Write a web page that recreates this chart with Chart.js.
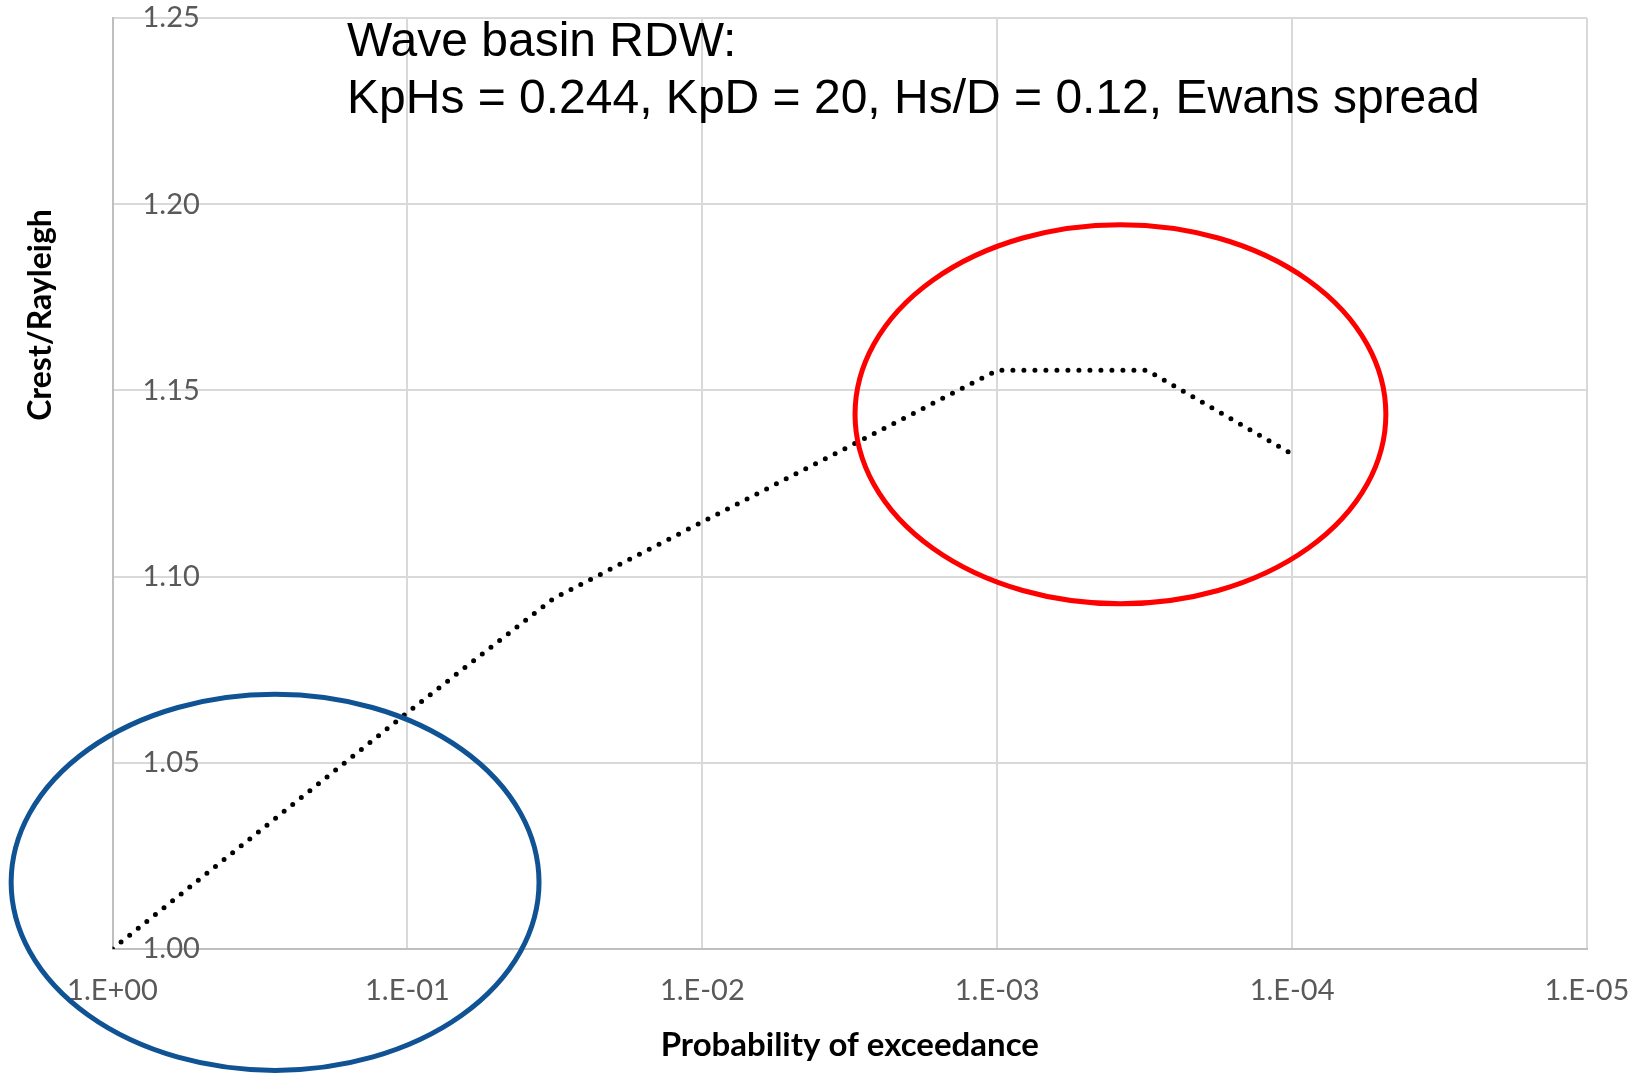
<!DOCTYPE html>
<html>
<head>
<meta charset="utf-8">
<script src="https://cdn.jsdelivr.net/npm/chart.js@4.4.1/dist/chart.umd.min.js"></script>
<style>
  html, body { margin: 0; padding: 0; background: #ffffff; overflow: hidden; }
  #wrap { width: 1649px; height: 1073px; position: relative; }
</style>
</head>
<body>
<div id="wrap"><canvas id="c" width="1649" height="1073"></canvas></div>
<script>
// Crest height relative to Rayleigh vs. probability of exceedance
const probability = [1, 0.1, 0.032, 0.001, 0.00031, 0.0001];
const crestRatio  = [1.000, 1.0635, 1.0941, 1.1554, 1.1554, 1.1329];

const xTickValues = [1, 1e-1, 1e-2, 1e-3, 1e-4, 1e-5];
const xTickLabels = ['1.E+00', '1.E-01', '1.E-02', '1.E-03', '1.E-04', '1.E-05'];
const yTickValues = [1.00, 1.05, 1.10, 1.15, 1.20, 1.25];
const yTickLabels = ['1.00', '1.05', '1.10', '1.15', '1.20', '1.25'];

const headingLines = ['Wave basin RDW:', 'KpHs = 0.244, KpD = 20, Hs/D = 0.12, Ewans spread'];
const xAxisTitle = 'Probability of exceedance';
const yAxisTitle = 'Crest/Rayleigh';

// Highlight rings: centre (probability, ratio), half-width in decades, half-height in ratio units
const rings = [
  { p: 0.281,   y: 1.0179, rxDecades: 0.895, ry: 0.0505, color: '#0F5394' },
  { p: 3.82e-4, y: 1.1436, rxDecades: 0.900, ry: 0.0509, color: '#FF0000' }
];

const tickFont = { family: 'Lato, "Open Sans", sans-serif', size: 29 };
const tickColor = '#595959';

// keep the plot box exactly where the layout padding puts it
const noEdgePadding = s => {
  s.paddingTop = 0; s.paddingBottom = 0; s.paddingLeft = 0; s.paddingRight = 0;
};

const overlay = {
  id: 'overlay',
  afterDraw(chart) {
    const { ctx, scales: { x, y } } = chart;

    // highlight rings
    rings.forEach(r => {
      const cx = x.getPixelForValue(r.p);
      const cy = y.getPixelForValue(r.y);
      const rx = Math.abs(x.getPixelForValue(r.p * Math.pow(10, r.rxDecades)) - cx);
      const ry = Math.abs(y.getPixelForValue(r.y + r.ry) - cy);
      ctx.save();
      ctx.beginPath();
      ctx.ellipse(cx, cy, rx, ry, 0, 0, Math.PI * 2);
      ctx.lineWidth = 5;
      ctx.strokeStyle = r.color;
      ctx.stroke();
      ctx.restore();
    });

    // heading inside the plot area
    ctx.save();
    ctx.fillStyle = '#000000';
    ctx.font = '48px "Liberation Sans", Arial, sans-serif';
    ctx.textAlign = 'left';
    ctx.textBaseline = 'alphabetic';
    ctx.fillText(headingLines[0], 347, 56);
    ctx.fillText(headingLines[1], 347, 113);
    ctx.restore();

    // vertical axis title
    ctx.save();
    ctx.fillStyle = '#000000';
    ctx.font = 'bold 32px Lato, "Open Sans", sans-serif';
    ctx.translate(51, 315);
    ctx.rotate(-Math.PI / 2);
    ctx.textAlign = 'center';
    ctx.textBaseline = 'alphabetic';
    ctx.fillText(yAxisTitle, 0, 0);
    ctx.restore();
  }
};

new Chart(document.getElementById('c'), {
  type: 'line',
  data: {
    datasets: [{
      data: probability.map((p, i) => ({ x: p, y: crestRatio[i] })),
      borderColor: '#000000',
      borderWidth: 5,
      borderDash: [0, 11],
      borderCapStyle: 'round',
      pointRadius: 0,
      pointHoverRadius: 0,
      tension: 0,
      fill: false
    }]
  },
  options: {
    responsive: false,
    animation: false,
    devicePixelRatio: 1,
    events: [],
    layout: { padding: { left: 52.5, right: 62, top: 18, bottom: 0 } },
    plugins: { legend: { display: false }, tooltip: { enabled: false }, title: { display: false } },
    scales: {
      x: {
        type: 'logarithmic',
        reverse: true,
        min: 1e-5,
        max: 1,
        afterBuildTicks: s => { s.ticks = xTickValues.map(v => ({ value: v })); },
        afterFit: s => { s.height = 124; noEdgePadding(s); },
        ticks: {
          font: tickFont,
          color: tickColor,
          padding: 24,
          maxRotation: 0,
          autoSkip: false,
          callback: v => xTickLabels[xTickValues.indexOf(v)]
        },
        grid: { color: '#D9D9D9', lineWidth: 2, drawTicks: false },
        border: { color: '#BFBFBF', width: 2 },
        title: {
          display: true,
          text: xAxisTitle,
          color: '#000000',
          font: { family: 'Lato, "Open Sans", sans-serif', size: 33, weight: 'bold' },
          padding: { top: 0, bottom: 8 }
        }
      },
      y: {
        type: 'linear',
        min: 1.0,
        max: 1.25,
        afterBuildTicks: s => { s.ticks = yTickValues.map(v => ({ value: v })); },
        afterFit: s => { s.width = 60; noEdgePadding(s); },
        ticks: {
          mirror: true,
          padding: 30,
          font: tickFont,
          color: tickColor,
          callback: (v, i) => yTickLabels[i]
        },
        grid: { color: '#D9D9D9', lineWidth: 2, drawTicks: false },
        border: { color: '#BFBFBF', width: 2 }
      }
    }
  },
  plugins: [overlay]
});
</script>
</body>
</html>
